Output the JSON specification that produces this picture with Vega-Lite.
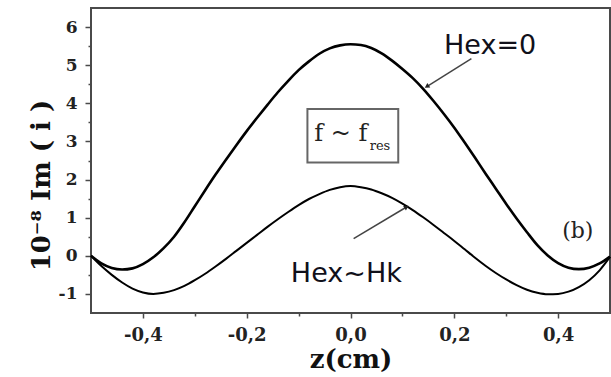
{
  "$schema": "https://vega.github.io/schema/vega-lite/v6.json",
  "width": 519,
  "height": 305,
  "autosize": {"type": "none"},
  "padding": {"left": 91, "top": 8, "right": 1, "bottom": 64},
  "background": "white",
  "config": {
    "view": {"stroke": "#4a4a4a", "strokeWidth": 2},
    "axis": {
      "grid": false,
      "domain": false,
      "tickColor": "#4a4a4a",
      "tickWidth": 1.5,
      "labelFont": "DejaVu Serif",
      "labelFontWeight": "bold",
      "labelColor": "#222",
      "titleFont": "DejaVu Serif",
      "titleFontWeight": "bold",
      "titleColor": "#111"
    }
  },
  "datasets": {
    "curves": [
      {"z": -0.5, "v": 0, "series": "Hex=0"},
      {"z": -0.48, "v": -0.2, "series": "Hex=0"},
      {"z": -0.46, "v": -0.32, "series": "Hex=0"},
      {"z": -0.44, "v": -0.36, "series": "Hex=0"},
      {"z": -0.42, "v": -0.33, "series": "Hex=0"},
      {"z": -0.4, "v": -0.22, "series": "Hex=0"},
      {"z": -0.38, "v": -0.04, "series": "Hex=0"},
      {"z": -0.36, "v": 0.2, "series": "Hex=0"},
      {"z": -0.34, "v": 0.5, "series": "Hex=0"},
      {"z": -0.32, "v": 0.88, "series": "Hex=0"},
      {"z": -0.3, "v": 1.3, "series": "Hex=0"},
      {"z": -0.28, "v": 1.72, "series": "Hex=0"},
      {"z": -0.26, "v": 2.13, "series": "Hex=0"},
      {"z": -0.24, "v": 2.52, "series": "Hex=0"},
      {"z": -0.22, "v": 2.9, "series": "Hex=0"},
      {"z": -0.2, "v": 3.27, "series": "Hex=0"},
      {"z": -0.18, "v": 3.62, "series": "Hex=0"},
      {"z": -0.16, "v": 3.96, "series": "Hex=0"},
      {"z": -0.14, "v": 4.29, "series": "Hex=0"},
      {"z": -0.12, "v": 4.59, "series": "Hex=0"},
      {"z": -0.1, "v": 4.87, "series": "Hex=0"},
      {"z": -0.08, "v": 5.1, "series": "Hex=0"},
      {"z": -0.06, "v": 5.3, "series": "Hex=0"},
      {"z": -0.04, "v": 5.44, "series": "Hex=0"},
      {"z": -0.02, "v": 5.52, "series": "Hex=0"},
      {"z": 0, "v": 5.55, "series": "Hex=0"},
      {"z": 0.02, "v": 5.53, "series": "Hex=0"},
      {"z": 0.04, "v": 5.45, "series": "Hex=0"},
      {"z": 0.06, "v": 5.31, "series": "Hex=0"},
      {"z": 0.08, "v": 5.12, "series": "Hex=0"},
      {"z": 0.1, "v": 4.9, "series": "Hex=0"},
      {"z": 0.12, "v": 4.66, "series": "Hex=0"},
      {"z": 0.14, "v": 4.38, "series": "Hex=0"},
      {"z": 0.16, "v": 4.06, "series": "Hex=0"},
      {"z": 0.18, "v": 3.72, "series": "Hex=0"},
      {"z": 0.2, "v": 3.36, "series": "Hex=0"},
      {"z": 0.22, "v": 2.97, "series": "Hex=0"},
      {"z": 0.24, "v": 2.57, "series": "Hex=0"},
      {"z": 0.26, "v": 2.16, "series": "Hex=0"},
      {"z": 0.28, "v": 1.76, "series": "Hex=0"},
      {"z": 0.3, "v": 1.36, "series": "Hex=0"},
      {"z": 0.32, "v": 0.98, "series": "Hex=0"},
      {"z": 0.34, "v": 0.62, "series": "Hex=0"},
      {"z": 0.36, "v": 0.28, "series": "Hex=0"},
      {"z": 0.38, "v": 0.01, "series": "Hex=0"},
      {"z": 0.4, "v": -0.19, "series": "Hex=0"},
      {"z": 0.42, "v": -0.31, "series": "Hex=0"},
      {"z": 0.44, "v": -0.35, "series": "Hex=0"},
      {"z": 0.46, "v": -0.31, "series": "Hex=0"},
      {"z": 0.48, "v": -0.2, "series": "Hex=0"},
      {"z": 0.5, "v": -0.02, "series": "Hex=0"},
      {"z": -0.5, "v": 0, "series": "Hex~Hk"},
      {"z": -0.48, "v": -0.27, "series": "Hex~Hk"},
      {"z": -0.46, "v": -0.5, "series": "Hex~Hk"},
      {"z": -0.44, "v": -0.7, "series": "Hex~Hk"},
      {"z": -0.42, "v": -0.86, "series": "Hex~Hk"},
      {"z": -0.4, "v": -0.96, "series": "Hex~Hk"},
      {"z": -0.38, "v": -1.0, "series": "Hex~Hk"},
      {"z": -0.36, "v": -0.97, "series": "Hex~Hk"},
      {"z": -0.34, "v": -0.9, "series": "Hex~Hk"},
      {"z": -0.32, "v": -0.79, "series": "Hex~Hk"},
      {"z": -0.3, "v": -0.64, "series": "Hex~Hk"},
      {"z": -0.28, "v": -0.47, "series": "Hex~Hk"},
      {"z": -0.26, "v": -0.28, "series": "Hex~Hk"},
      {"z": -0.24, "v": -0.08, "series": "Hex~Hk"},
      {"z": -0.22, "v": 0.13, "series": "Hex~Hk"},
      {"z": -0.2, "v": 0.34, "series": "Hex~Hk"},
      {"z": -0.18, "v": 0.55, "series": "Hex~Hk"},
      {"z": -0.16, "v": 0.76, "series": "Hex~Hk"},
      {"z": -0.14, "v": 0.96, "series": "Hex~Hk"},
      {"z": -0.12, "v": 1.15, "series": "Hex~Hk"},
      {"z": -0.1, "v": 1.33, "series": "Hex~Hk"},
      {"z": -0.08, "v": 1.49, "series": "Hex~Hk"},
      {"z": -0.06, "v": 1.62, "series": "Hex~Hk"},
      {"z": -0.04, "v": 1.73, "series": "Hex~Hk"},
      {"z": -0.02, "v": 1.8, "series": "Hex~Hk"},
      {"z": 0, "v": 1.83, "series": "Hex~Hk"},
      {"z": 0.02, "v": 1.8, "series": "Hex~Hk"},
      {"z": 0.04, "v": 1.74, "series": "Hex~Hk"},
      {"z": 0.06, "v": 1.64, "series": "Hex~Hk"},
      {"z": 0.08, "v": 1.52, "series": "Hex~Hk"},
      {"z": 0.1, "v": 1.37, "series": "Hex~Hk"},
      {"z": 0.12, "v": 1.2, "series": "Hex~Hk"},
      {"z": 0.14, "v": 1.01, "series": "Hex~Hk"},
      {"z": 0.16, "v": 0.81, "series": "Hex~Hk"},
      {"z": 0.18, "v": 0.6, "series": "Hex~Hk"},
      {"z": 0.2, "v": 0.39, "series": "Hex~Hk"},
      {"z": 0.22, "v": 0.17, "series": "Hex~Hk"},
      {"z": 0.24, "v": -0.05, "series": "Hex~Hk"},
      {"z": 0.26, "v": -0.26, "series": "Hex~Hk"},
      {"z": 0.28, "v": -0.45, "series": "Hex~Hk"},
      {"z": 0.3, "v": -0.62, "series": "Hex~Hk"},
      {"z": 0.32, "v": -0.77, "series": "Hex~Hk"},
      {"z": 0.34, "v": -0.89, "series": "Hex~Hk"},
      {"z": 0.36, "v": -0.97, "series": "Hex~Hk"},
      {"z": 0.38, "v": -1.01, "series": "Hex~Hk"},
      {"z": 0.4, "v": -1.0, "series": "Hex~Hk"},
      {"z": 0.42, "v": -0.94, "series": "Hex~Hk"},
      {"z": 0.44, "v": -0.82, "series": "Hex~Hk"},
      {"z": 0.46, "v": -0.64, "series": "Hex~Hk"},
      {"z": 0.48, "v": -0.38, "series": "Hex~Hk"},
      {"z": 0.5, "v": -0.03, "series": "Hex~Hk"}
    ],
    "arrows": [
      {"label": "Hex=0", "x1": 0.233, "y1": 5.17, "x2": 0.147, "y2": 4.44},
      {"label": "Hex~Hk", "x1": 0.006, "y1": 0.45, "x2": 0.108, "y2": 1.28}
    ],
    "labels": [
      {"text": "Hex=0", "z": 0.269, "v": 5.29},
      {"text": "Hex~Hk", "z": -0.008, "v": -0.68}
    ],
    "box": [
      {"x1": -0.083, "x2": 0.092, "y1": 2.45, "y2": 3.85}
    ],
    "boxtext": [
      {"text": "f ~ f", "z": -0.07, "v": 3.0}
    ],
    "boxsub": [
      {"text": "res", "z": 0.037, "v": 2.77}
    ],
    "panel": [
      {"text": "(b)", "z": 0.438, "v": 0.47}
    ]
  },
  "layer": [
    {
      "data": {"name": "box"},
      "mark": {"type": "rect", "fill": "white", "stroke": "#666", "strokeWidth": 2},
      "encoding": {
        "x": {"field": "x1", "type": "quantitative", "axis": null},
        "x2": {"field": "x2"},
        "y": {"field": "y1", "type": "quantitative", "axis": null},
        "y2": {"field": "y2"}
      }
    },
    {
      "data": {"name": "curves"},
      "mark": {"type": "line", "color": "black", "interpolate": "monotone"},
      "encoding": {
        "x": {
          "field": "z", "type": "quantitative",
          "scale": {"domain": [-0.5, 0.5], "nice": false, "zero": false},
          "axis": {
            "orient": "bottom",
            "values": [-0.4, -0.2, 0, 0.2, 0.4],
            "labelExpr": "(datum.value < 0 ? '-' : '') + replace(format(abs(datum.value), '.1f'), '.', ',')",
            "tickSize": 5,
            "labelPadding": 8,
            "labelFontSize": 18,
            "title": "z(cm)",
            "titleFontSize": 26,
            "titlePadding": 2
          }
        },
        "y": {
          "field": "v", "type": "quantitative",
          "scale": {"domain": [-1.5, 6.5], "nice": false, "zero": false},
          "axis": {
            "orient": "left",
            "values": [-1, 0, 1, 2, 3, 4, 5, 6],
            "labelExpr": "(datum.value < 0 ? '-' : '') + abs(datum.value)",
            "tickSize": 6,
            "labelPadding": 8,
            "labelFontSize": 17,
            "title": "10⁻⁸ Im ( i )",
            "titleFontSize": 26,
            "titlePadding": 4,
            "titleY": 177
          }
        },
        "detail": {"field": "series", "type": "nominal"},
        "strokeWidth": {
          "field": "series", "type": "nominal",
          "scale": {"domain": ["Hex=0", "Hex~Hk"], "range": [2.6, 2]},
          "legend": null
        }
      }
    },
    {
      "data": {"name": "curves"},
      "mark": {"type": "point", "opacity": 0},
      "encoding": {
        "x": {
          "field": "z", "type": "quantitative",
          "scale": {"domain": [-0.5, 0.5], "nice": false, "zero": false},
          "axis": {"orient": "bottom", "values": [-0.3, -0.1, 0.1, 0.3], "labels": false, "tickSize": 3, "title": null}
        },
        "y": {
          "field": "v", "type": "quantitative",
          "scale": {"domain": [-1.5, 6.5], "nice": false, "zero": false},
          "axis": {"orient": "left", "values": [-0.5, 0.5, 1.5, 2.5, 3.5, 4.5, 5.5], "labels": false, "tickSize": 3, "title": null}
        }
      }
    },
    {
      "data": {"name": "arrows"},
      "mark": {"type": "rule", "color": "#444", "strokeWidth": 1.5},
      "encoding": {
        "x": {"field": "x1", "type": "quantitative", "axis": null},
        "y": {"field": "y1", "type": "quantitative", "axis": null},
        "x2": {"field": "x2"},
        "y2": {"field": "y2"}
      }
    },
    {
      "data": {"name": "arrows"},
      "transform": [{"filter": "datum.label == 'Hex=0'"}],
      "mark": {"type": "point", "shape": "triangle-up", "filled": true, "color": "#222", "size": 30, "angle": 238, "opacity": 1},
      "encoding": {
        "x": {"field": "x2", "type": "quantitative", "axis": null},
        "y": {"field": "y2", "type": "quantitative", "axis": null}
      }
    },
    {
      "data": {"name": "arrows"},
      "transform": [{"filter": "datum.label == 'Hex~Hk'"}],
      "mark": {"type": "point", "shape": "triangle-up", "filled": true, "color": "#222", "size": 30, "angle": 59, "opacity": 1},
      "encoding": {
        "x": {"field": "x2", "type": "quantitative", "axis": null},
        "y": {"field": "y2", "type": "quantitative", "axis": null}
      }
    },
    {
      "data": {"name": "labels"},
      "mark": {"type": "text", "font": "DejaVu Sans", "fontSize": 27, "color": "#10101a", "align": "center", "baseline": "alphabetic"},
      "encoding": {
        "x": {"field": "z", "type": "quantitative", "axis": null},
        "y": {"field": "v", "type": "quantitative", "axis": null},
        "text": {"field": "text"}
      }
    },
    {
      "data": {"name": "boxtext"},
      "mark": {"type": "text", "font": "DejaVu Serif", "fontSize": 24, "color": "#222", "align": "left", "baseline": "alphabetic"},
      "encoding": {
        "x": {"field": "z", "type": "quantitative", "axis": null},
        "y": {"field": "v", "type": "quantitative", "axis": null},
        "text": {"field": "text"}
      }
    },
    {
      "data": {"name": "boxsub"},
      "mark": {"type": "text", "font": "DejaVu Serif", "fontSize": 13, "color": "#222", "align": "left", "baseline": "alphabetic"},
      "encoding": {
        "x": {"field": "z", "type": "quantitative", "axis": null},
        "y": {"field": "v", "type": "quantitative", "axis": null},
        "text": {"field": "text"}
      }
    },
    {
      "data": {"name": "panel"},
      "mark": {"type": "text", "font": "DejaVu Serif", "fontSize": 22, "color": "#222", "align": "center", "baseline": "alphabetic"},
      "encoding": {
        "x": {"field": "z", "type": "quantitative", "axis": null},
        "y": {"field": "v", "type": "quantitative", "axis": null},
        "text": {"field": "text"}
      }
    }
  ],
  "resolve": {"axis": {"x": "independent", "y": "independent"}}
}
